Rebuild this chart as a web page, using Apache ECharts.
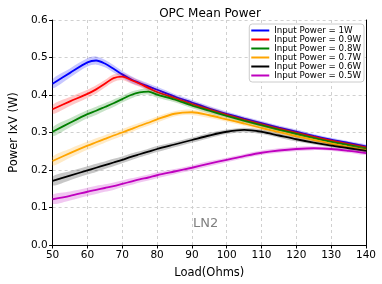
<!DOCTYPE html>
<html><head><meta charset="utf-8">
<script src="https://cdn.jsdelivr.net/npm/echarts@6/dist/echarts.min.js"></script>
<style>html,body{margin:0;padding:0;background:#fff}#c{width:382px;height:284px}</style>
</head><body><div id="c"></div>
<script>
var loads = [50,55,60,62.5,65,67.5,70,72.5,75,77.5,80,85,90,95,100,105,110,115,120,125,130,135,140];
var p1W  = [0.430,0.459,0.487,0.492,0.484,0.470,0.455,0.442,0.432,0.423,0.414,0.396,0.380,0.364,0.350,0.337,0.325,0.313,0.302,0.291,0.281,0.272,0.263];
var p09W = [0.362,0.383,0.403,0.415,0.430,0.445,0.449,0.440,0.430,0.419,0.408,0.392,0.376,0.361,0.347,0.334,0.322,0.310,0.299,0.288,0.278,0.269,0.260];
var p08W = [0.302,0.326,0.349,0.358,0.368,0.378,0.389,0.400,0.407,0.409,0.401,0.388,0.372,0.358,0.344,0.331,0.319,0.307,0.296,0.285,0.275,0.266,0.257];
var p07W = [0.224,0.245,0.265,0.274,0.283,0.292,0.300,0.309,0.318,0.326,0.335,0.350,0.354,0.346,0.335,0.324,0.312,0.301,0.290,0.280,0.270,0.261,0.253];
var p06W = [0.171,0.185,0.199,0.206,0.213,0.220,0.227,0.235,0.242,0.249,0.256,0.268,0.280,0.292,0.302,0.307,0.302,0.292,0.282,0.273,0.265,0.258,0.251];
var p05W = [0.122,0.131,0.142,0.147,0.152,0.157,0.163,0.169,0.175,0.180,0.186,0.196,0.206,0.217,0.227,0.237,0.246,0.252,0.256,0.258,0.256,0.251,0.245];
// half-width of the shaded band at each load (W)
var bandHalf = [0.012,0.012,0.011,0.011,0.010,0.010,0.009,0.009,0.008,0.008,0.008,0.007,0.007,0.007,0.006,0.006,0.006,0.006,0.006,0.005,0.005,0.005,0.005];
var names = ['Input Power = 1W','Input Power = 0.9W','Input Power = 0.8W','Input Power = 0.7W','Input Power = 0.6W','Input Power = 0.5W'];
var colors = ['#0000ff','#ff0000','#008000','#ffa500','#000000','#bf00bf'];

var all = [p1W,p09W,p08W,p07W,p06W,p05W];
function hexA(h,a){var r=parseInt(h.substr(1,2),16),g=parseInt(h.substr(3,2),16),b=parseInt(h.substr(5,2),16);return 'rgba('+r+','+g+','+b+','+a+')';}
var series = [];
all.forEach(function(vals,i){
  series.push({type:'custom',name:'band'+i,silent:true,clip:true,z:2+i*2,
    data:[[loads[0],vals[0]]],
    renderItem:function(params,api){
      var up=[],lo=[];
      for(var k=0;k<loads.length;k++){up.push(api.coord([loads[k],vals[k]+bandHalf[k]]));lo.push(api.coord([loads[k],vals[k]-bandHalf[k]]));}
      return {type:'polygon',shape:{points:up.concat(lo.reverse()),smooth:0.3},style:{fill:hexA(colors[i],0.22),stroke:null}};
    }});
  series.push({type:'line',name:names[i],smooth:0.3,symbol:'none',
    lineStyle:{color:colors[i],width:1.8},itemStyle:{color:colors[i]},
    data:loads.map(function(x,k){return [x,vals[k]];}),z:3+i*2});
});

var frameAxis = {axisLine:{show:true,lineStyle:{color:'#000'}},axisTick:{show:false},axisLabel:{show:false},splitLine:{show:false}};
var chart = echarts.init(document.getElementById('c'));
chart.setOption({
  animation:false,
  textStyle:{fontFamily:'DejaVu Sans'},
  title:{text:'OPC Mean Power',left:205,top:3,textAlign:'center',textStyle:{fontSize:12,fontWeight:'normal',color:'#000',fontFamily:'DejaVu Sans'}},
  grid:{left:43,right:16,top:20,bottom:37,show:false},
  legend:{data:names,orient:'vertical',right:18,top:24,icon:'rect',itemWidth:18,itemHeight:2,itemGap:0,z:20,
    backgroundColor:'#fff',borderColor:'#cccccc',borderWidth:1,borderRadius:3,padding:[2,3,2,2],
    textStyle:{fontSize:8.7,lineHeight:8.9,color:'#000',fontFamily:'DejaVu Sans'}},
  xAxis:[{type:'value',min:50,max:140,interval:10,name:'Load(Ohms)',nameLocation:'middle',nameGap:22,
    nameTextStyle:{fontSize:11.5,color:'#000'},
    axisLine:{show:true,lineStyle:{color:'#000'}},axisTick:{show:true,length:3.5,lineStyle:{color:'#000'}},
    axisLabel:{fontSize:10.5,color:'#000',margin:5},
    splitLine:{show:true,lineStyle:{color:'#d0d0d0',type:[3,3]}}},
    Object.assign({type:'value',min:50,max:140,position:'top'},frameAxis)],
  yAxis:[{type:'value',min:0,max:0.6,interval:0.1,name:'Power IxV (W)',nameLocation:'middle',nameGap:32,
    nameTextStyle:{fontSize:11.5,color:'#000'},
    axisLine:{show:true,lineStyle:{color:'#000'}},axisTick:{show:true,length:3.5,lineStyle:{color:'#000'}},
    axisLabel:{fontSize:10.5,color:'#000',margin:5,formatter:function(v){return v.toFixed(1);}},
    splitLine:{show:true,lineStyle:{color:'#d0d0d0',type:[3,3]}}},
    Object.assign({type:'value',min:0,max:0.6,position:'right'},frameAxis)],
  graphic:[{type:'text',left:193,top:217,z:1,style:{text:'LN2',fontSize:13,fill:'#808080',fontFamily:'DejaVu Sans'}}],
  series:series
});
</script></body></html>
